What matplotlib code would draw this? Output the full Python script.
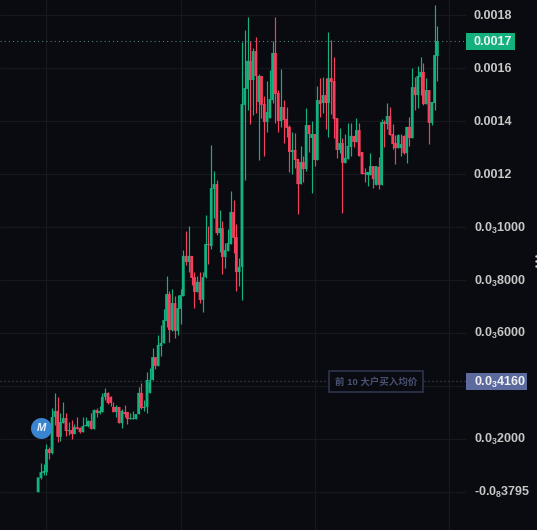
import numpy as np
import matplotlib
matplotlib.use('Agg')
import matplotlib.pyplot as plt
from matplotlib.patches import Rectangle

# candle values, in millionths of a price unit
opens = [0, 53, 72, 75, 162, 147, 283, 306, 208, 260, 279, 230, 234, 219, 245, 242, 226, 249, 249, 268,
         238, 309, 298, 302, 359, 374, 359, 321, 302, 321, 260, 302, 302, 275, 275, 275, 294, 374, 317, 321,
         374, 423, 509, 476, 551, 562, 645, 747, 611, 713, 608, 691, 740, 891, 868, 891, 811, 755, 793, 725,
         811, 936, 928, 1144, 1162, 977, 996, 887, 910, 936, 1057, 962, 830, 849, 1461, 1521, 1627, 1555, 1664, 1472,
         1570, 1464, 1396, 1411, 1479, 1657, 1506, 1400, 1453, 1408, 1378, 1283, 1291, 1257, 1162, 1245, 1219, 1385, 1336, 1351,
         1253, 1479, 1468, 1498, 1468, 1562, 1551, 1411, 1291, 1317, 1242, 1257, 1302, 1344, 1321, 1366, 1283, 1204, 1196, 1196,
         1230, 1159, 1227, 1159, 1396, 1389, 1419, 1351, 1317, 1298, 1298, 1344, 1279, 1378, 1336, 1528, 1498, 1566, 1585, 1464,
         1517, 1393, 1468, 1645]
closes = [55, 75, 79, 162, 147, 283, 306, 208, 264, 279, 230, 234, 219, 245, 238, 226, 249, 253, 268, 238,
          309, 298, 306, 359, 374, 336, 336, 302, 321, 260, 306, 294, 275, 279, 279, 294, 374, 317, 321, 423,
          423, 509, 476, 555, 562, 649, 747, 611, 713, 608, 694, 743, 891, 868, 891, 808, 755, 793, 725, 811,
          936, 932, 1147, 1162, 977, 996, 887, 913, 940, 1057, 959, 830, 849, 1464, 1525, 1627, 1555, 1664, 1570, 1570,
          1461, 1396, 1434, 1483, 1657, 1502, 1400, 1453, 1404, 1374, 1283, 1291, 1253, 1162, 1245, 1219, 1385, 1351, 1351, 1253,
          1479, 1464, 1498, 1468, 1562, 1547, 1408, 1291, 1317, 1242, 1261, 1306, 1344, 1321, 1366, 1268, 1200, 1200, 1208, 1230,
          1181, 1230, 1159, 1396, 1389, 1419, 1347, 1313, 1298, 1347, 1313, 1279, 1378, 1336, 1528, 1498, 1570, 1585, 1464, 1517,
          1393, 1472, 1649, 1702]
highs = [55, 109, 106, 181, 170, 317, 374, 359, 298, 340, 298, 264, 272, 257, 283, 245, 283, 283, 272, 298,
         313, 317, 325, 374, 392, 377, 362, 340, 328, 321, 313, 328, 302, 298, 306, 294, 396, 411, 347, 453,
         468, 543, 509, 593, 630, 691, 815, 759, 766, 740, 743, 766, 913, 985, 1004, 891, 830, 815, 830, 830,
         1045, 1004, 1310, 1211, 1177, 1064, 1023, 940, 993, 1136, 1102, 1011, 883, 1698, 1744, 1793, 1702, 1676, 1717, 1578,
         1570, 1494, 1551, 1593, 1702, 1793, 1517, 1596, 1479, 1453, 1385, 1359, 1355, 1257, 1306, 1268, 1449, 1385, 1400, 1351,
         1532, 1562, 1566, 1562, 1736, 1706, 1642, 1411, 1374, 1336, 1351, 1393, 1393, 1344, 1411, 1393, 1283, 1223, 1208, 1279,
         1230, 1230, 1264, 1408, 1404, 1468, 1453, 1389, 1347, 1351, 1351, 1347, 1378, 1415, 1600, 1566, 1608, 1642, 1619, 1562,
         1517, 1472, 1838, 1759]
lows = [0, 49, 64, 64, 125, 143, 253, 189, 192, 260, 211, 215, 200, 219, 238, 223, 226, 249, 245, 238,
        238, 283, 294, 302, 347, 332, 325, 302, 283, 260, 242, 283, 257, 275, 275, 275, 294, 313, 306, 298,
        374, 423, 464, 476, 513, 562, 623, 566, 608, 581, 593, 634, 740, 857, 830, 781, 694, 755, 713, 679,
        808, 860, 917, 1034, 970, 906, 823, 845, 910, 936, 902, 759, 777, 725, 1177, 1442, 1389, 1423, 1430, 1253,
        1411, 1268, 1359, 1411, 1468, 1393, 1359, 1378, 1317, 1340, 1208, 1200, 1223, 1049, 1162, 1170, 1211, 1283, 1128, 1230,
        1253, 1415, 1430, 1370, 1340, 1427, 1336, 1261, 1279, 1053, 1242, 1257, 1268, 1302, 1321, 1268, 1200, 1170, 1155, 1196,
        1147, 1159, 1144, 1159, 1302, 1370, 1347, 1294, 1238, 1298, 1268, 1276, 1242, 1306, 1336, 1442, 1449, 1498, 1461, 1464,
        1313, 1385, 1442, 1551]

price_ticks = [0.0018, 0.0016, 0.0014, 0.0012, 0.0010, 0.0008, 0.0006, 0.0004, 0.0002, 0.0]
price_labels = ['0.0018', '0.0016', '0.0014', '0.0012', r'0.0$_3$1000', r'0.0$_3$8000', r'0.0$_3$6000',
                '', r'0.0$_3$2000', r'-0.0$_8$3795']
last_price = 0.0017
avg_price = 0.000416
avg_note = '前 10 大户买入均价'

bg = '#0a0b10'
green = '#14b17e'
red = '#f4405c'
grid = '#16181e'

plt.rcParams['font.family'] = ['Liberation Sans', 'Noto Sans CJK SC', 'DejaVu Sans']
plt.rcParams['mathtext.default'] = 'regular'

o = np.array(opens) * 1e-6
c = np.array(closes) * 1e-6
h = np.array(highs) * 1e-6
l = np.array(lows) * 1e-6
x = np.arange(len(o))
cols = [green if a >= b else red for a, b in zip(c, o)]

fig = plt.figure(figsize=(5.37, 5.30), dpi=100, facecolor=bg)
ax = fig.add_axes([0, 0, 1, 1], facecolor=bg)
ax.set_xlim(-13.65, 178.68)
ax.set_ylim(-0.0001434, 0.0018568)
ax.axis('off')

# grid stops at the price scale
right = 153.25
for t in [3, 51, 99, 147]:
    ax.axvline(t, color=grid, lw=0.9, zorder=1)
ax.hlines(price_ticks, -13.65, right, color=grid, lw=0.9, zorder=1)

ax.vlines(x, l, h, colors=cols, lw=0.85, zorder=2)
ax.bar(x, np.abs(c - o), bottom=np.minimum(o, c), width=1.0, color=cols, lw=0, zorder=3, snap=False)

ax.hlines(last_price + 0.000002, -13.65, right, color='#4d8f7c', lw=0.75, linestyles=(0, (1, 3)), zorder=4)
ax.hlines(avg_price + 0.000002, -13.65, right, color='#3d4560', lw=0.9, linestyles=(0, (1, 2.2)), zorder=4)

label_x = 474 / 537
label_shift = 0.0000035
yt = ax.get_yaxis_transform()

# right hand labels
for p, s in zip(price_ticks, price_labels):
    ax.text(label_x, p - label_shift, s, transform=yt, color='#d8d8d8', fontsize=9, fontweight='bold', alpha=0.92,
            va='center', ha='left')

# price boxes, x in axes fraction
ax.add_patch(Rectangle((466 / 537, last_price - 0.000032), 49 / 537, 0.000064, transform=yt,
                       fc=green, ec='none', zorder=5))
ax.add_patch(Rectangle((466 / 537, avg_price - 0.000032), 61 / 537, 0.000064, transform=yt,
                       fc='#5c6a9e', ec='none', zorder=5))
ax.text(label_x, last_price - label_shift, '0.0017', transform=yt, color='#f2f2f2', fontsize=9,
        fontweight='bold', va='center', ha='left', zorder=6)
ax.text(label_x, avg_price - label_shift, r'0.0$_3$4160', transform=yt, color='#f2f2f2', fontsize=9,
        fontweight='bold', va='center', ha='left', zorder=6)

ax.text(375.8 / 537, avg_price, avg_note, transform=yt, color='#4b5372', fontsize=6.8,
        fontweight='bold', va='center', ha='center', zorder=6,
        bbox=dict(boxstyle='square,pad=0.6', fc=bg, ec='#2b3148', lw=1.3))

# M badge
ax.scatter([1.2], [0.00024], s=228, color='#3a85d2', lw=0, zorder=7)
ax.text(1.2, 0.00024, 'M', color='#e8f2fb', fontsize=8, fontweight='bold', style='italic',
        ha='center', va='center', zorder=8)

# the three dots on the right edge
ax.scatter([0.9985] * 3, [0.00089, 0.000872, 0.000854], transform=yt,
           s=3, color='#d0d0d0', lw=0, zorder=8)

fig.savefig('out.png', dpi=100, facecolor=bg)
